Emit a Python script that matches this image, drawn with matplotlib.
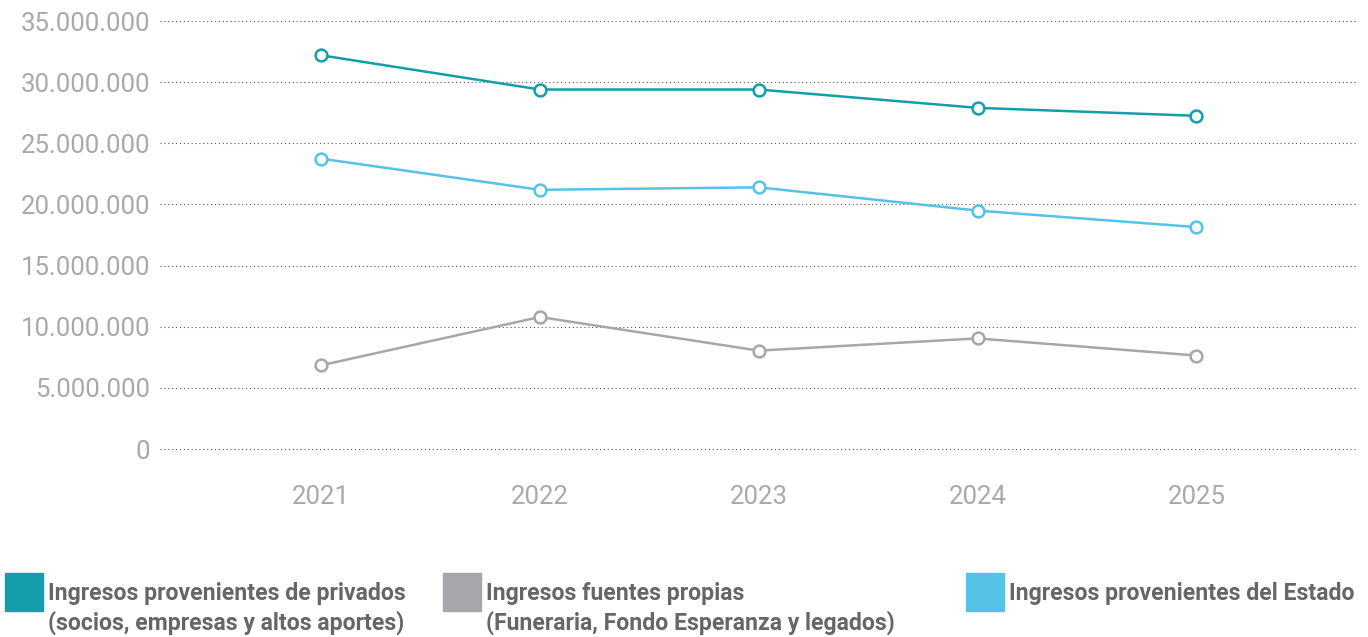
import matplotlib
matplotlib.use("Agg")
from matplotlib import pyplot as plt
from matplotlib.patches import Rectangle

# values (pesos)
years = ['2021', '2022', '2023', '2024', '2025']
privados = [32200000, 29400000, 29400000, 27900000, 27250000]
estado = [23750000, 21200000, 21400000, 19500000, 18150000]
propias = [6850000, 10800000, 8050000, 9050000, 7650000]

labels = ['Ingresos provenientes de privados\n(socios, empresas y altos aportes)',
          'Ingresos fuentes propias\n(Funeraria, Fondo Esperanza y legados)',
          'Ingresos provenientes del Estado']

teal = '#139FAA'
grey = '#A7A6AB'
blue = '#56C2E8'
tick_col = '#A9A9A9'
text_col = '#666666'

plt.rcParams['font.family'] = ['Roboto', 'DejaVu Sans']

fig = plt.figure(figsize=(13.68, 6.37), dpi=100)
ax = fig.add_axes([0.117, 0.295, 0.876, 0.672])

x = list(range(len(years)))
for vals, col in [(privados, teal), (estado, blue), (propias, grey)]:
    ax.plot(x, vals, color=col, lw=1.8, marker='o', ms=8.5,
            mfc='white', mec=col, mew=1.8, zorder=3)

ax.set_ylim(0, 35000000)
ax.set_xlim(-0.735, 4.74)
ax.set_yticks(range(0, 35000001, 5000000))
ax.set_yticklabels(['{:,}'.format(v).replace(',', '.') for v in range(0, 35000001, 5000000)])
ax.set_xticks(x)
ax.set_xticklabels(years)
ax.grid(axis='y', color='#555555', ls=(0, (1, 2.5)), lw=0.8)
for gl in ax.get_ygridlines():
    gl.set_clip_on(False)
ax.set_axisbelow(True)
for s in ax.spines.values():
    s.set_visible(False)
ax.tick_params(length=0, labelsize=18.5, colors=tick_col)
ax.tick_params(axis='y', pad=7)
ax.tick_params(axis='x', pad=26)

# legend drawn by hand
W, H = 1368, 637
swatches = [(5, teal), (443, grey), (966, blue)]
for (sx, col), lab in zip(swatches, labels):
    fig.patches.append(Rectangle((sx / W, 1 - 611 / H), 38 / W, 38 / H,
                                 transform=fig.transFigure, color=col))
    fig.text((sx + 43) / W, 1 - 582 / H, lab, ha='left', va='top',
             fontsize=16.6, fontweight='bold', color=text_col, linespacing=1.3)

fig.savefig('out.png', dpi=100)
